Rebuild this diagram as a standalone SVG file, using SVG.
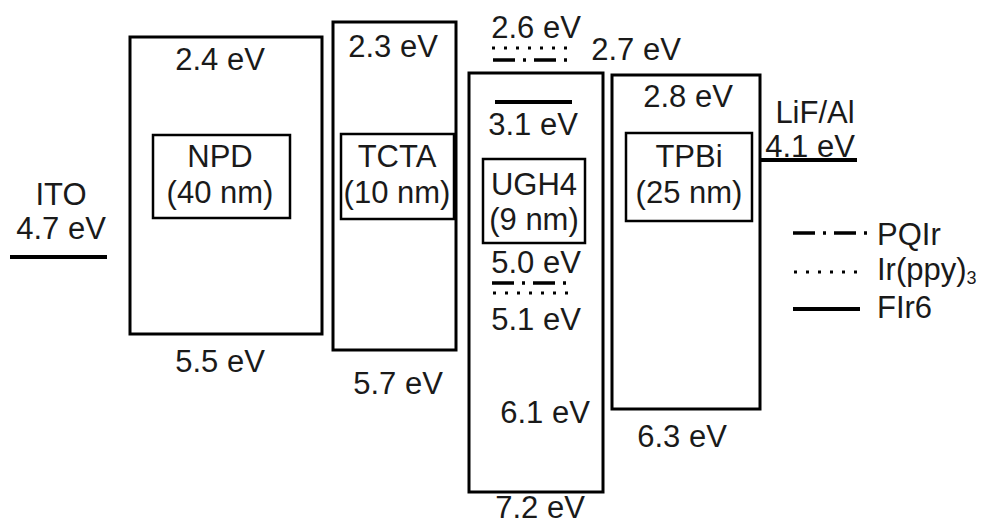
<svg xmlns="http://www.w3.org/2000/svg" width="991" height="526" viewBox="0 0 991 526">
<style>
.b{fill:none;stroke:#000;stroke-width:3}
.i{fill:none;stroke:#000;stroke-width:2.5}
text{font-family:"Liberation Sans",Arial,sans-serif;font-size:31px;fill:#1a1a1a;text-anchor:middle}
.l{text-anchor:start}
.solid{stroke:#000;stroke-width:4;fill:none}
.dot{stroke:#000;stroke-width:3;fill:none;stroke-dasharray:3 9}
.dd{stroke:#000;stroke-width:3.5;fill:none;stroke-dasharray:22 8 3 8}
</style>
<rect width="991" height="526" fill="#fff"/>
<g id="ITO">
<text x="61" y="205">ITO</text>
<text x="61" y="239">4.7 eV</text>
<line class="solid" x1="10" y1="257" x2="107" y2="257" stroke-width="3"/>
</g>
<g id="NPD">
<rect class="b" x="130" y="37" width="192" height="297"/>
<rect class="i" x="153" y="135" width="137" height="83"/>
<text x="220" y="70">2.4 eV</text>
<text x="220" y="167">NPD</text>
<text x="220" y="203">(40 nm)</text>
<text x="220" y="372">5.5 eV</text>
</g>
<g id="TCTA">
<rect class="b" x="333" y="22" width="123" height="328"/>
<rect class="i" x="341" y="134" width="113" height="85"/>
<text x="393" y="57">2.3 eV</text>
<text x="397" y="167">TCTA</text>
<text x="397" y="203">(10 nm)</text>
<text x="398" y="394">5.7 eV</text>
</g>
<g id="UGH4">
<rect class="b" x="469" y="73" width="134" height="419"/>
<rect class="i" x="483" y="159" width="102" height="84"/>
<text x="536" y="38">2.6 eV</text>
<text x="636" y="60">2.7 eV</text>
<text x="533" y="135">3.1 eV</text>
<text x="534" y="195">UGH4</text>
<text x="534" y="230">(9 nm)</text>
<text x="536" y="273">5.0 eV</text>
<text x="536" y="330">5.1 eV</text>
<text x="545" y="423">6.1 eV</text>
<text x="540" y="518">7.2 eV</text>
</g>
<g id="TPBi">
<rect class="b" x="612" y="75" width="148" height="334"/>
<rect class="i" x="626" y="133" width="126" height="88"/>
<text x="688" y="107">2.8 eV</text>
<text x="689" y="167">TPBi</text>
<text x="689" y="203">(25 nm)</text>
<text x="682" y="447">6.3 eV</text>
</g>
<g id="LiFAl">
<text x="815" y="123">LiF/Al</text>
<text x="810" y="157">4.1 eV</text>
<line class="solid" x1="760" y1="160" x2="857" y2="160" stroke-width="3"/>
</g>
<g id="connectors">
<line class="dot" x1="492" y1="48" x2="575" y2="48"/>
<line class="dd" x1="493" y1="60" x2="570" y2="60"/>
<line class="solid" x1="495" y1="102" x2="572" y2="102"/>
<line class="dd" x1="492" y1="283" x2="568" y2="283"/>
<line class="dot" x1="493" y1="293" x2="572" y2="293"/>
</g>
<g id="legend">
<line class="dd" x1="793" y1="233" x2="868" y2="233" stroke-dasharray="15 12 3 10 22 6 3 10"/>
<text class="l" x="877" y="245">PQIr</text>
<line class="dot" x1="794" y1="272" x2="860" y2="272"/>
<text class="l" x="877" y="280">Ir(ppy)<tspan font-size="18" dy="4">3</tspan></text>
<line class="solid" x1="793" y1="309" x2="860" y2="309"/>
<text class="l" x="877" y="318">FIr6</text>
</g>
</svg>
